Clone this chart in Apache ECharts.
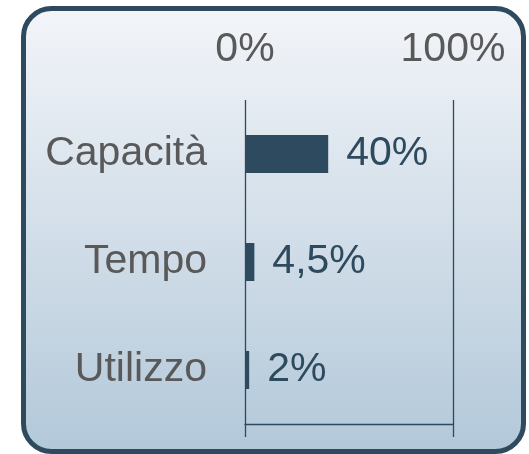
<!DOCTYPE html>
<html>
<head>
<meta charset="utf-8">
<script src="https://cdn.jsdelivr.net/npm/echarts@6/dist/echarts.min.js"></script>
<style>
  html, body { margin: 0; padding: 0; background: #ffffff; }
  #chart { width: 529px; height: 454px; }
</style>
</head>
<body>
<div id="chart"></div>
<script>
const categories = ['Capacità', 'Tempo', 'Utilizzo'];
const values = [40, 4.5, 2];
const axisTicks = [0, 100];

const dark = '#2e4a5e';
const chart = echarts.init(document.getElementById('chart'));

const fmtPct = v => String(v).replace('.', ',') + '%';

chart.setOption({
  animation: false,
  backgroundColor: '#ffffff',
  graphic: [{
    type: 'rect',
    z: -10,
    silent: true,
    shape: { x: 23.5, y: 8.5, width: 500, height: 443, r: 28 },
    style: {
      fill: new echarts.graphic.LinearGradient(0, 0, 0, 1, [
        { offset: 0, color: '#f3f5f9' },
        { offset: 1, color: '#b2c8d9' }
      ]),
      stroke: dark,
      lineWidth: 5
    }
  }],
  grid: { left: 245, right: 76, top: 100, bottom: 30 },
  xAxis: [{
    type: 'value',
    position: 'top',
    min: axisTicks[0],
    max: axisTicks[1],
    interval: 100,
    axisLine: { show: false },
    axisTick: { show: false },
    axisLabel: {
      margin: 30,
      color: '#595959',
      fontSize: 41,
      fontFamily: 'Liberation Sans, Arial, sans-serif',
      formatter: v => v + '%'
    },
    splitLine: { show: true, lineStyle: { color: dark, width: 1.3 } }
  }, {
    type: 'value',
    position: 'bottom',
    min: axisTicks[0],
    max: axisTicks[1],
    interval: 100,
    axisLine: { show: true, lineStyle: { color: dark, width: 1.3 } },
    axisTick: { show: true, length: 13, lineStyle: { color: dark, width: 1.3 } },
    axisLabel: { show: false },
    splitLine: { show: false }
  }],
  yAxis: {
    type: 'category',
    inverse: true,
    data: categories,
    axisLine: { show: false },
    axisTick: { show: false },
    axisLabel: {
      margin: 38,
      color: '#595959',
      fontSize: 41,
      fontFamily: 'Liberation Sans, Arial, sans-serif'
    }
  },
  series: [{
    type: 'bar',
    xAxisIndex: 0,
    data: values,
    barWidth: 38,
    itemStyle: { color: dark },
    label: {
      show: true,
      position: 'right',
      distance: 18,
      color: dark,
      fontSize: 41,
      fontFamily: 'Liberation Sans, Arial, sans-serif',
      formatter: p => fmtPct(p.value)
    }
  }]
});
</script>
</body>
</html>
